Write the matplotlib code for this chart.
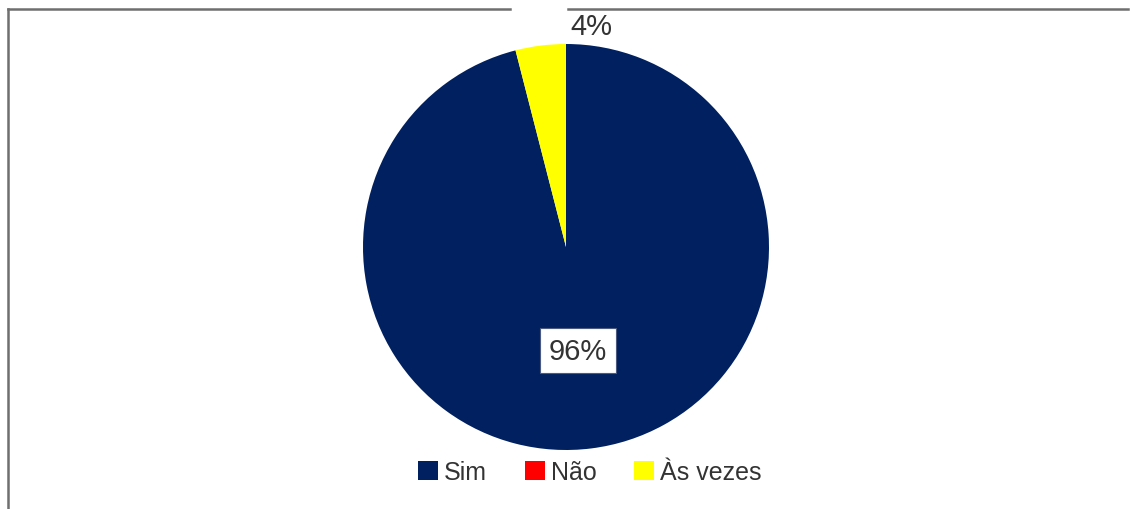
import matplotlib
matplotlib.use("Agg")
import matplotlib.pyplot as plt
from matplotlib.lines import Line2D
from matplotlib.patches import Patch

plt.rcParams['font.family'] = ['Liberation Sans', 'DejaVu Sans']

# data
categories = ['Sim', 'Não', 'Às vezes']
values = [96, 0, 4]
colors = ['#002060', '#FF0000', '#FFFF00']
pct_labels = ['96%', '', '4%']

W, H = 1130, 510
fig = plt.figure(figsize=(W / 100, H / 100), dpi=100)

# frame lines (left and top, with a gap near the 4% label)
fig.add_artist(Line2D([8 / W, 8 / W], [0, 1 - 10 / H], color='#6f6f6f', lw=1.8))
fig.add_artist(Line2D([8 / W, 510 / W], [1 - 10 / H, 1 - 10 / H], color='#6f6f6f', lw=1.8))
fig.add_artist(Line2D([568 / W, 1128 / W], [1 - 10 / H, 1 - 10 / H], color='#6f6f6f', lw=1.8))

# pie axes: center (566, 248), radius 203 px
cx, cy, r = 566, 248, 203
ax = fig.add_axes([(cx - r) / W, (H - cy - r) / H, 2 * r / W, 2 * r / H])
ax.pie(values, colors=colors, startangle=90, counterclock=False,
       wedgeprops=dict(linewidth=0))
ax.set_xlim(-1, 1)
ax.set_ylim(-1, 1)
ax.set_aspect('equal')
ax.axis('off')

# percentage labels
ax.text(0.059, -0.51, pct_labels[0], ha='center', va='center', fontsize=21,
        color='#333333',
        bbox=dict(boxstyle='square,pad=0.3', fc='white', ec='#4a5a80', lw=0.8))
ax.text(0.123, 1.089, pct_labels[2], ha='center', va='center', fontsize=21,
        color='#333333', clip_on=False, zorder=5)

# legend
handles = [Patch(facecolor=c, edgecolor='none') for c in colors]
fig.legend(handles, categories, loc='center', bbox_to_anchor=(0.522, 1 - 473 / H),
           ncol=3, frameon=False, fontsize=18, handlelength=0.8, handleheight=0.8,
           handletextpad=0.25, columnspacing=1.5, labelcolor='#333333')

fig.savefig('out.png', dpi=100)
